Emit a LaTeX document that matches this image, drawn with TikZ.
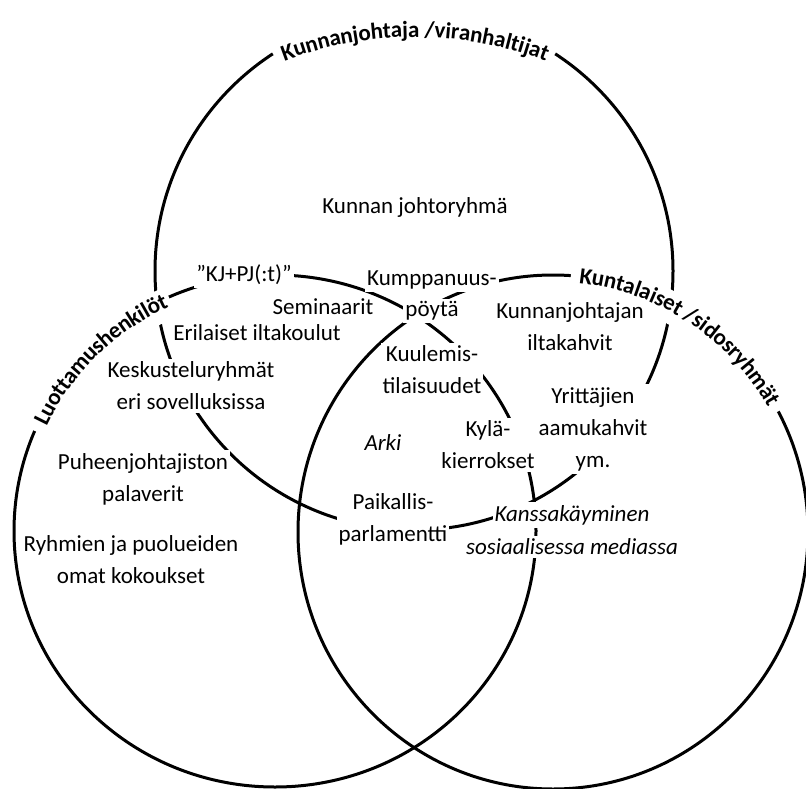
\documentclass[tikz,border=0pt]{standalone}
\usepackage{fontspec}
\setmainfont{Carlito}
\usetikzlibrary{calc,decorations.text}
\begin{document}
\begin{tikzpicture}[x=1pt,y=-1pt,
  circ/.style={line width=3pt},
  gapband/.style={white, line width=32pt},
  lbl/.style={fill=white, inner xsep=2pt, inner ysep=3pt, align=center, font=\fontsize{23}{32}\selectfont},
  ilbl/.style={lbl, font=\fontsize{23}{32}\selectfont\itshape}]
\useasboundingbox (0,0) rectangle (806,789);
\clip (0,0) rectangle (806,789);
\fill[white] (0,0) rectangle (806,789);
\coordinate (T) at (414,271);
\coordinate (L) at (275,531);
\coordinate (R) at (553,532);
\coordinate (Tlab) at (415,402);
% circles
\draw[circ] (T) ellipse [x radius=259pt, y radius=259pt];
\draw[circ] (L) ellipse [x radius=261pt, y radius=256pt];
\draw[circ] (R) ellipse [x radius=255pt, y radius=257pt];
% gaps for the circle labels
\draw[gapband] ($(T)+(123:259pt and 259pt)$) arc[start angle=123, end angle=57, x radius=259pt, y radius=259pt];
\draw[gapband] ($(L)+(157:256pt and 251pt)$) arc[start angle=157, end angle=114, x radius=256pt, y radius=251pt];
\draw[gapband] ($(R)+(86:252pt and 254pt)$) arc[start angle=86, end angle=28, x radius=252pt, y radius=254pt];
% texts
\node[lbl] (johto) at (415,207) {Kunnan johtoryhmä};
\node[lbl] (kjpj) at (244,275) {”KJ+PJ(:t)”};
\node[lbl] (semin) at (323,307) {Seminaarit};
\node[lbl] (erilaiset) at (257,333) {Erilaiset iltakoulut};
\node[lbl] (kump) at (432,280) {Kumppanuus-};
\node[lbl] (poyta) at (432,311) {pöytä};
\node[lbl] (kuul) at (432,370) {Kuulemis-\\tilaisuudet};
\node[lbl] (keskust) at (191,386) {Keskusteluryhmät\\eri sovelluksissa};
\node[lbl] (kunnanj) at (570,327) {Kunnanjohtajan\\iltakahvit};
\node[lbl] (yrit) at (593,429) {Yrittäjien\\aamukahvit\\ym.};
\node[lbl] (kyla) at (488,445) {Kylä-\\kierrokset};
\node[ilbl] (arki) at (383,443) {Arki};
\node[lbl] (puheen) at (143,479) {Puheenjohtajiston\\palaverit};
\node[lbl] (paik) at (393,519) {Paikallis-\\parlamentti};
\node[ilbl] (kanssa) at (572,515) {Kanssakäyminen};
\node[ilbl] (some) at (572,547) {sosiaalisessa mediassa};
\node[lbl] (ryhm) at (131,560) {Ryhmien ja puolueiden\\omat kokoukset};
% circle labels
\path[decorate, decoration={text along path, text align=center, raise=-7pt,
  text={|\bfseries\fontsize{23}{27}\selectfont|Kunnanjohtaja /viranhaltijat}}]
  ($(Tlab)+(118:372pt)$) arc[start angle=118, end angle=62, radius=372pt];
\path[decorate, decoration={text along path, text align=center, raise=-9pt,
  text={|\bfseries\fontsize{23}{27}\selectfont|Luottamushenkilöt}}]
  ($(L)+(165:261pt and 256pt)$) arc[start angle=165, end angle=105, x radius=261pt, y radius=256pt];
\path[decorate, decoration={text along path, text align=center, raise=-7pt,
  text={|\bfseries\fontsize{23}{27}\selectfont|Kuntalaiset /sidosryhmät}}]
  ($(R)+(97:255pt and 257pt)$) arc[start angle=97, end angle=17, x radius=255pt, y radius=257pt];
\end{tikzpicture}
\end{document}
